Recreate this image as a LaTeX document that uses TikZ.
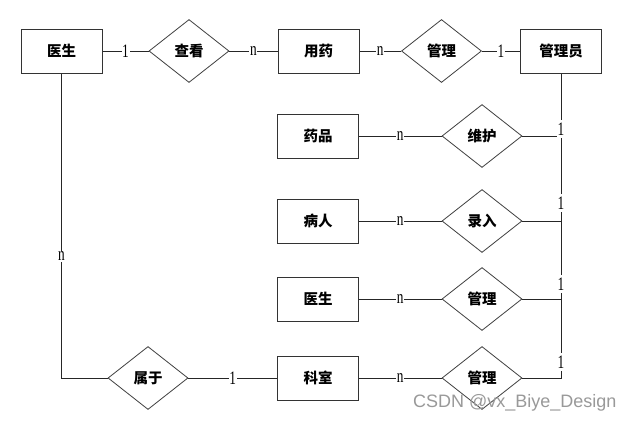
\documentclass[tikz,border=0pt]{standalone}
\usepackage{fontspec}
\setmainfont{Liberation Serif}
\newfontfamily\cjk{Noto Sans CJK SC}
\newfontfamily\wmfont{Liberation Sans}
\usetikzlibrary{shapes.geometric}
\begin{document}
\begin{tikzpicture}[x=1pt,y=-1pt,
  ent/.style={draw=black!80, line width=1pt, minimum width=81pt, minimum height=44pt, inner sep=0pt, font=\cjk\bfseries\fontsize{14.5}{16}\selectfont},
  rel/.style={diamond, draw=black!75, line width=0.8pt, minimum width=80pt, minimum height=63pt, inner sep=0pt, font=\cjk\bfseries\fontsize{14.5}{16}\selectfont},
  conn/.style={draw=black!85, line width=0.9pt},
  lab/.style={fill=white, inner sep=1pt, xscale=0.7, transform shape, font=\fontsize{19}{19}\selectfont},
  wm/.style={font=\wmfont\fontsize{18}{18}\selectfont, text=black!40, inner sep=0pt}
]
\useasboundingbox (0,0) rectangle (632,423);
\fill[white] (0,0) rectangle (632,423);

\node[ent] (doc) at (61.5,51) {医生};
\node[rel] (see) at (189,51) {查看};
\node[ent] (use) at (318.5,51) {用药};
\node[rel] (mg1) at (441.5,51) {管理};
\node[ent] (adm) at (561,51) {管理员};
\node[ent] (drug) at (318,136) {药品};
\node[rel] (mt) at (482,136) {维护};
\node[ent] (pat) at (318,221) {病人};
\node[rel] (rec) at (482,221) {录入};
\node[ent] (doc2) at (318,299) {医生};
\node[rel] (mg2) at (482,299) {管理};
\node[ent] (dept) at (318,378) {科室};
\node[rel] (mg3) at (482,378) {管理};
\node[rel] (bel) at (148,378) {属于};

\coordinate (rb) at (561,378);
\coordinate (lb) at (61.5,378);

\draw[conn] (doc) -- node[lab]{1} (see);
\draw[conn] (see) -- node[lab]{n} (use);
\draw[conn] (use) -- node[lab]{n} (mg1);
\draw[conn] (mg1) -- node[lab]{1} (adm);
\draw[conn] (drug) -- node[lab]{n} (mt);
\draw[conn] (pat) -- node[lab]{n} (rec);
\draw[conn] (doc2) -- node[lab]{n} (mg2);
\draw[conn] (dept) -- node[lab]{n} (mg3);
\draw[conn] (bel) -- node[lab]{1} (dept);
\draw[conn] (doc.south) -- node[lab,pos=0.6]{n} (lb) -- (bel.west);

\draw[conn] (adm.south) -- (rb) -- (mg3.east);
\draw[conn] (mt.east) -- (mt.east -| rb);
\draw[conn] (rec.east) -- (rec.east -| rb);
\draw[conn] (mg2.east) -- (mg2.east -| rb);

\node[lab, inner ysep=3pt] (l1) at (561,129) {1};
\node[lab, inner ysep=3pt] (l2) at (561,203) {1};
\node[lab, inner ysep=3pt] (l3) at (561,284) {1};
\node[lab, inner ysep=3pt] (l4) at (561,362) {1};

\node[wm, anchor=west] (wmk) at (413,403) {CSDN @vx\_Biye\_Design};
\end{tikzpicture}
\end{document}
